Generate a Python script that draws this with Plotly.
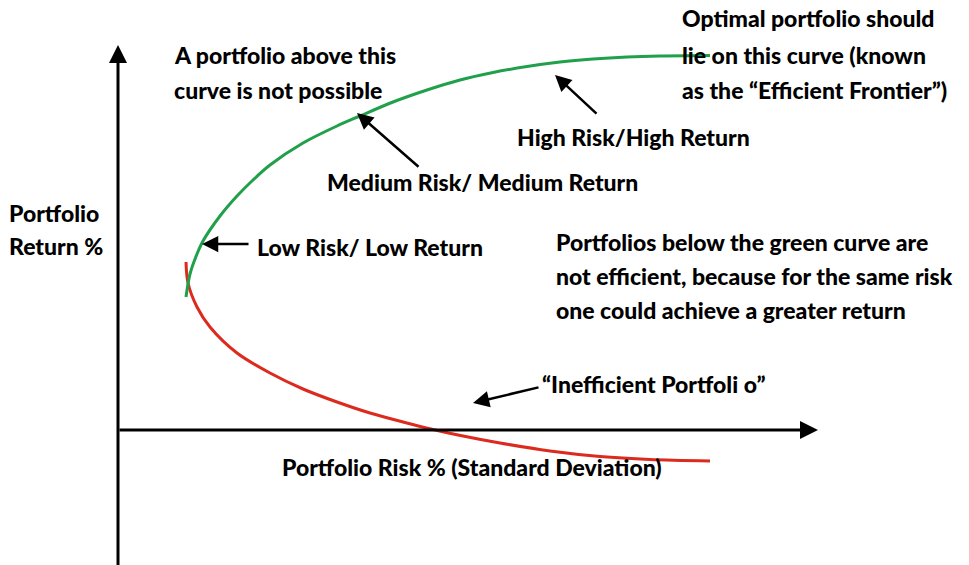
import plotly.graph_objects as go

# Efficient frontier (upper, green) and inefficient branch (lower, red)
green_risk = [6.8, 7.2, 7.9, 8.5, 10.2, 11.9, 13.5, 15.2, 18.5, 21.9, 24.2, 27.5, 30.9, 34.2, 37.5, 40.9, 44.2, 47.5, 50.9, 54.2, 59.2]
green_return = [13.3, 15.6, 17.6, 18.9, 21.4, 23.4, 25.0, 26.5, 28.7, 30.4, 31.4, 32.8, 34.0, 35.0, 35.75, 36.35, 36.8, 37.1, 37.3, 37.4, 37.45]
red_risk = [6.8, 7.0, 7.9, 9.2, 11.9, 15.2, 18.5, 21.9, 25.2, 28.5, 31.5, 34.0, 38.2, 43.2, 48.2, 53.2, 59.2]
red_return = [16.8, 14.7, 12.3, 10.3, 7.7, 5.7, 4.1, 2.8, 1.7, 0.8, 0.05, -0.5, -1.3, -2.1, -2.65, -2.95, -3.1]

W, H = 969, 565
X_RANGE = [-11.8, 85.1]
Y_RANGE = [-13.5, 43.0]

FONT = "Lato"
FS = 23

fig = go.Figure()
fig.add_trace(go.Scatter(x=red_risk, y=red_return, mode="lines",
                         line=dict(color="#dc2a1e", width=3, shape="spline", smoothing=0.9),
                         hoverinfo="skip", showlegend=False))
fig.add_trace(go.Scatter(x=green_risk, y=green_return, mode="lines",
                         line=dict(color="#20a04a", width=3, shape="spline", smoothing=0.9),
                         hoverinfo="skip", showlegend=False))

def px2x(px):
    return X_RANGE[0] + px / W * (X_RANGE[1] - X_RANGE[0])

def py2y(py):
    return Y_RANGE[1] - py / H * (Y_RANGE[1] - Y_RANGE[0])

annotations = []

# axes with arrow heads
annotations.append(dict(x=0, y=py2y(45), ax=0, ay=Y_RANGE[0] - 1, xref="x", yref="y",
                        axref="x", ayref="y", text="", showarrow=True, arrowhead=2,
                        arrowsize=1.2, arrowwidth=3, arrowcolor="black"))
annotations.append(dict(x=px2x(818), y=0, ax=0, ay=0, xref="x", yref="y",
                        axref="x", ayref="y", text="", showarrow=True, arrowhead=2,
                        arrowsize=1.2, arrowwidth=3, arrowcolor="black"))

# pointer arrows (tip, tail) in pixel layout positions
pointers = [
    ((202, 244), (250, 244)),
    ((357, 113), (420, 168)),
    ((555, 75), (598, 115)),
    ((473, 403), (540, 387)),
]
for (tx, ty), (sx, sy) in pointers:
    annotations.append(dict(x=px2x(tx), y=py2y(ty), ax=px2x(sx), ay=py2y(sy),
                            xref="x", yref="y", axref="x", ayref="y", text="",
                            showarrow=True, arrowhead=2, arrowsize=1.3,
                            arrowwidth=2.5, arrowcolor="black"))

labels = [
    ("A portfolio above this", 175, 55),
    ("curve is not possible", 175, 90),
    ("Optimal portfolio should", 683, 18),
    ("lie on this curve (known", 683, 55),
    ("as the \u201cEfficient Frontier\u201d)", 683, 90),
    ("High Risk/High Return", 518, 137),
    ("Medium Risk/ Medium Return", 328, 182),
    ("Low Risk/ Low Return", 258, 247),
    ("Portfolios below the green curve are", 557, 242),
    ("not efficient, because for the same risk", 557, 276),
    ("one could achieve a greater return", 557, 310),
    ("\u201cInefficient Portfoli o\u201d", 543, 384),
    ("Portfolio Risk % (Standard Deviation)", 283, 467),
    ("Portfolio", 10, 213),
    ("Return %", 10, 246),
]
for text, lx, ly in labels:
    annotations.append(dict(x=(lx - 3) / W, y=1 - ly / H, xref="paper", yref="paper",
                            text=text, showarrow=False,
                            xanchor="left", yanchor="middle",
                            font=dict(family=FONT, size=FS, color="black", weight=900)))

fig.update_layout(
    width=W, height=H,
    margin=dict(l=0, r=0, t=0, b=0),
    paper_bgcolor="white", plot_bgcolor="white",
    xaxis=dict(range=X_RANGE, visible=False, fixedrange=True),
    yaxis=dict(range=Y_RANGE, visible=False, fixedrange=True),
    annotations=annotations,
    showlegend=False,
)

fig.write_html("out.html", config={"displayModeBar": False},
               post_script="document.body.style.margin='0px';")
